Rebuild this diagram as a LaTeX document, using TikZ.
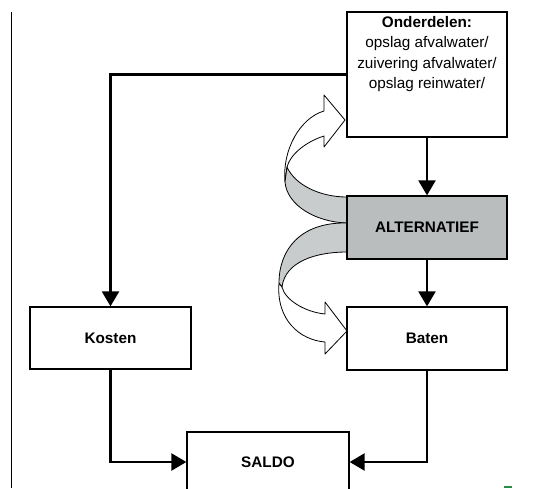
\documentclass[tikz,border=0pt]{standalone}
\usepackage{fontspec}
\setmainfont{Liberation Sans}
\usetikzlibrary{arrows.meta}
\definecolor{boxgray}{RGB}{185,189,190}
\definecolor{bandgray}{RGB}{200,204,205}
\definecolor{markgreen}{RGB}{40,140,70}
\begin{document}
\begin{tikzpicture}[x=1pt,y=-1pt,
  box/.style={draw,line width=1.3pt,fill=white,minimum width=160pt,minimum height=63pt,inner sep=0pt,
    font=\fontsize{15.3}{18}\selectfont\bfseries},
  conn/.style={line width=2.4pt,-{Triangle[width=17pt,length=15pt]}},
  band/.style={draw,line width=0.8pt,line join=round}]
\useasboundingbox (0,0) rectangle (553,488);

% left margin line
\draw[line width=1.5pt] (11.5,12) -- (11.5,488);

% upper curved block arrow (front face + head)
\path[band,fill=white] (285,182) .. controls (282,150) and (300,118) .. (324,111)
  -- (324,95) -- (345,120) -- (324,147) -- (324,136)
  .. controls (305,142) and (290,155) .. (287,167) -- cycle;
% upper curved block arrow (back face)
\path[band,fill=bandgray] (347,197) .. controls (320,197) and (295,185) .. (287,167)
  -- (285,182) .. controls (287,205) and (315,222) .. (347,223) -- cycle;

% lower curved block arrow (front face + head)
\path[band,fill=white] (279,283) .. controls (276,320) and (300,340) .. (325,342)
  -- (325,354) -- (347,331) -- (325,302) -- (325,314)
  .. controls (305,312) and (285,300) .. (282,287) -- cycle;
% lower curved block arrow (back face)
\path[band,fill=bandgray] (347,223) .. controls (300,222) and (279,250) .. (279,283)
  -- (282,287) .. controls (285,262) and (315,252) .. (347,252) -- cycle;

% boxes
\node[box,minimum height=125pt] (onder) at (427,74.5) {};
\node[font=\fontsize{15.3}{20.5}\selectfont,align=center,anchor=north,inner sep=0pt] (ondertext)
  at (427,16) {\textbf{Onderdelen:}\\opslag afvalwater/\\zuivering afvalwater/\\opslag reinwater/};
\node[box,fill=boxgray] (alt) at (427,227.5) {ALTERNATIEF};
\node[box] (baten) at (427,338.5) {Baten};
\node[box,minimum width=161pt,minimum height=62pt] (kosten) at (110.5,338) {Kosten};
\node[box,minimum width=162pt,minimum height=60pt] (saldo) at (268,462) {SALDO};

% connectors
\draw[conn] (onder.west) -| (kosten.north);
\draw[conn] (onder.south) -- (alt.north);
\draw[conn] (alt.south) -- (baten.north);
\draw[conn] (kosten.south) |- (saldo.west);
\draw[conn] (baten.south) |- (saldo.east);

% small mark bottom right
\fill[markgreen] (504,486) rectangle (512,488);
\end{tikzpicture}
\end{document}
